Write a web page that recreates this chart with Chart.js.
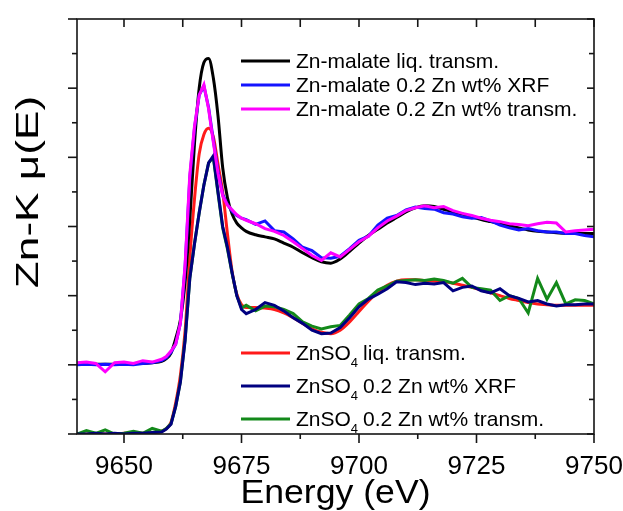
<!DOCTYPE html>
<html>
<head>
<meta charset="utf-8">
<script src="https://cdn.jsdelivr.net/npm/chart.js@4.4.0/dist/chart.umd.min.js"></script>
<style>
  html, body { margin: 0; padding: 0; background: #fff; }
  #wrap { width: 623px; height: 511px; }
</style>
</head>
<body>
<div id="wrap"><canvas id="xanes" width="623" height="511"></canvas></div>
<script>
// energy grid (eV) shared by all six spectra
const energy = [9640,9642,9644,9646,9648,9650,9652,9654,9656,9658,
  9659,9660,9661,9662,9663,9664,9665,9666,9667,9668,9669,9670,9671,9672,9673,9674,9675,9676,
  9678,9680,9682,9684,9686,9688,9690,9692,9694,9696,9698,9700,9702,9704,9706,9708,9710,9712,9714,9716,9718,
  9720,9722,9724,9726,9728,9730,9732,9734,9736,9738,9740,9742,9744,9746,9748,9750];

// Zn-malate spectra (offset by +1)
const malateLiq = [1.01,1.01,1.01,1.01,1.01,1.02,1.02,1.02,1.03,1.05,
  1.09,1.17,1.38,1.65,2.2,3.1,4.2,5.0,5.37,5.43,5.15,4.6,3.85,3.42,3.18,3.05,2.98,2.93,
  2.88,2.85,2.82,2.76,2.70,2.62,2.55,2.49,2.47,2.53,2.64,2.76,2.87,2.96,3.05,3.13,3.21,3.27,3.30,3.29,3.25,
  3.21,3.18,3.14,3.10,3.07,3.04,3.01,2.98,2.95,2.93,2.92,2.91,2.90,2.90,2.90,2.90];
const malateXrf = [1.0,1.01,1.0,1.01,1.0,1.01,1.0,1.02,1.03,1.06,
  1.1,1.18,1.3,1.6,2.42,3.7,4.42,4.9,5.03,4.72,4.25,3.8,3.46,3.32,3.22,3.16,3.12,3.1,
  3.03,3.08,2.94,2.92,2.82,2.70,2.65,2.55,2.54,2.57,2.68,2.80,2.86,3.02,3.12,3.16,3.24,3.28,3.26,3.25,3.20,
  3.18,3.14,3.12,3.13,3.08,3.02,2.98,2.95,2.97,2.94,2.92,2.92,2.90,2.90,2.87,2.85];
const malateTrans = [1.03,1.04,1.02,0.9,1.03,1.04,1.02,1.06,1.04,1.08,
  1.12,1.2,1.3,1.6,2.45,3.75,4.45,4.9,5.05,4.7,4.22,3.77,3.44,3.31,3.24,3.17,3.12,3.09,
  3.04,2.97,2.93,2.87,2.78,2.68,2.58,2.51,2.62,2.56,2.67,2.78,2.86,2.98,3.08,3.15,3.23,3.27,3.30,3.27,3.29,
  3.23,3.19,3.16,3.12,3.09,3.07,3.04,3.03,3.01,3.04,3.06,3.05,2.92,2.94,2.95,2.96];

// ZnSO4 spectra
const so4Liq = [0,0,0,0,0,0.01,0.01,0.01,0.02,0.04,
  0.08,0.17,0.45,0.85,1.49,2.55,3.4,4.05,4.33,4.42,4.3,3.9,3.5,2.9,2.35,2.02,1.87,1.83,
  1.83,1.82,1.80,1.75,1.68,1.60,1.52,1.47,1.45,1.50,1.62,1.77,1.92,2.05,2.15,2.21,2.23,2.23,2.22,2.21,2.20,
  2.18,2.15,2.12,2.08,2.04,2.00,1.96,1.93,1.90,1.88,1.87,1.86,1.86,1.86,1.86,1.86];
const so4Xrf = [0,0,0.01,0,0.01,0,0.01,0.01,0.02,0.03,
  0.07,0.14,0.4,0.75,1.35,2.25,2.75,3.2,3.6,3.92,4.02,3.5,3.0,2.7,2.33,2.0,1.8,1.74,
  1.80,1.90,1.86,1.78,1.68,1.60,1.50,1.45,1.46,1.54,1.68,1.84,1.95,2.02,2.10,2.20,2.19,2.16,2.18,2.17,2.19,
  2.07,2.12,2.14,2.07,2.04,2.10,2.00,1.96,1.91,1.93,1.88,1.85,1.87,1.87,1.88,1.88];
const so4Trans = [0,0.05,0.01,0.06,0.0,0.01,0.04,0.01,0.08,0.04,
  0.08,0.15,0.4,0.76,1.37,2.25,2.75,3.2,3.6,3.92,4.0,3.48,2.98,2.68,2.32,2.0,1.82,1.86,
  1.78,1.85,1.84,1.80,1.74,1.62,1.56,1.52,1.55,1.57,1.72,1.88,1.96,2.08,2.14,2.21,2.22,2.23,2.22,2.24,2.22,
  2.18,2.25,2.12,2.10,2.08,1.93,2.00,1.96,1.75,2.25,1.95,2.19,1.88,1.94,1.93,1.88];

const malateLabels = ['Zn-malate liq. transm.', 'Zn-malate 0.2 Zn wt% XRF', 'Zn-malate 0.2 Zn wt% transm.'];
const so4Labels = ['liq. transm.', '0.2 Zn wt% XRF', '0.2 Zn wt% transm.'];
const xTitle = 'Energy (eV)';
const yTitle = 'Zn-K μ(E)';

const xMajor = [9650, 9675, 9700, 9725, 9750];
const xMinor = [9662.5, 9687.5, 9712.5, 9737.5];
const yMajor = [0, 1, 2, 3, 4, 5, 6];
const yMinor = [0.5, 1.5, 2.5, 3.5, 4.5, 5.5];

const FONT = '"Liberation Sans", Arial, sans-serif';
const colors = { black: '#000000', blue: '#1414ff', magenta: '#ff00ff', red: '#ff1a1a', navy: '#000080', green: '#13891a' };
const LW = 3;

function pts(vals) {
  return energy.map((e, i) => ({ x: e, y: vals[i] }));
}
function line(label, vals, color, smooth) {
  return {
    label: label, data: pts(vals), borderColor: color, backgroundColor: color,
    borderWidth: LW, pointRadius: 0, fill: false,
    tension: smooth ? 0.35 : 0, cubicInterpolationMode: smooth ? 'monotone' : 'default'
  };
}

// first listed is drawn on top
const datasets = [
  line(malateLabels[2], malateTrans, colors.magenta, false),
  line(malateLabels[1], malateXrf, colors.blue, false),
  line(malateLabels[0], malateLiq, colors.black, true),
  line('ZnSO4 ' + so4Labels[1], so4Xrf, colors.navy, false),
  line('ZnSO4 ' + so4Labels[2], so4Trans, colors.green, false),
  line('ZnSO4 ' + so4Labels[0], so4Liq, colors.red, true)
];

const frameTicks = {
  id: 'frameTicks',
  afterDraw(chart) {
    const { ctx, chartArea: a, scales: { x, y } } = chart;
    ctx.save();
    ctx.strokeStyle = '#151515';
    ctx.lineWidth = 1.6;
    ctx.strokeRect(a.left, a.top, a.right - a.left, a.bottom - a.top);
    const mark = (x1, y1, x2, y2) => { ctx.beginPath(); ctx.moveTo(x1, y1); ctx.lineTo(x2, y2); ctx.stroke(); };
    xMajor.forEach(v => { const p = x.getPixelForValue(v); mark(p, a.bottom, p, a.bottom + 9); mark(p, a.top, p, a.top + 8); });
    xMinor.forEach(v => { const p = x.getPixelForValue(v); mark(p, a.bottom, p, a.bottom + 5); mark(p, a.top, p, a.top + 8); });
    yMajor.forEach(v => { const p = y.getPixelForValue(v); mark(a.left - 9, p, a.left, p); mark(a.right - 7, p, a.right, p); });
    yMinor.forEach(v => { const p = y.getPixelForValue(v); mark(a.left - 5, p, a.left, p); mark(a.right - 5, p, a.right, p); });
    ctx.restore();
  }
};

// axis titles, stretched a little like the original figure
const axisTitles = {
  id: 'axisTitles',
  afterDraw(chart) {
    const { ctx, chartArea: a } = chart;
    ctx.save();
    ctx.fillStyle = '#000';
    ctx.textAlign = 'center';
    ctx.textBaseline = 'alphabetic';
    ctx.font = '33px ' + FONT;
    ctx.translate((a.left + a.right) / 2, 503);
    ctx.scale(1.08, 1);
    ctx.fillText(xTitle, 0, 0);
    ctx.restore();

    ctx.save();
    ctx.fillStyle = '#000';
    ctx.textAlign = 'center';
    ctx.textBaseline = 'alphabetic';
    ctx.font = '32px ' + FONT;
    ctx.translate(38, 192);
    ctx.rotate(-Math.PI / 2);
    ctx.scale(1.38, 1);
    ctx.fillText(yTitle, 0, 0);
    ctx.restore();
  }
};

const twoLegends = {
  id: 'twoLegends',
  afterDraw(chart) {
    const ctx = chart.ctx;
    ctx.save();
    ctx.lineWidth = LW;
    ctx.textBaseline = 'middle';
    ctx.fillStyle = '#000';
    const row = (color, yy) => {
      ctx.strokeStyle = color;
      ctx.beginPath(); ctx.moveTo(241, yy); ctx.lineTo(290, yy); ctx.stroke();
    };
    const top = [[colors.black, 61], [colors.blue, 85], [colors.magenta, 109]];
    top.forEach((r, i) => {
      row(r[0], r[1]);
      ctx.font = '21px ' + FONT;
      ctx.fillText(malateLabels[i], 296, r[1] + 1);
    });
    const bottom = [[colors.red, 353], [colors.navy, 386], [colors.green, 419]];
    bottom.forEach((r, i) => {
      row(r[0], r[1]);
      ctx.font = '21px ' + FONT;
      let tx = 296;
      ctx.fillText('ZnSO', tx, r[1] + 1);
      tx += ctx.measureText('ZnSO').width;
      ctx.font = '13px ' + FONT;
      ctx.fillText('4', tx, r[1] + 10);
      tx += ctx.measureText('4').width + 5;
      ctx.font = '21px ' + FONT;
      ctx.fillText(so4Labels[i], tx, r[1] + 1);
    });
    ctx.restore();
  }
};

new Chart(document.getElementById('xanes'), {
  type: 'line',
  data: { datasets: datasets },
  options: {
    responsive: false,
    animation: false,
    devicePixelRatio: 1,
    layout: { padding: { top: 19, right: 29, left: 0, bottom: 0 } },
    plugins: { legend: { display: false }, tooltip: { enabled: false } },
    scales: {
      x: {
        type: 'linear', min: 9640, max: 9750,
        grid: { display: false, drawTicks: false },
        border: { display: false },
        afterBuildTicks: s => { s.ticks = xMajor.map(v => ({ value: v })); },
        afterFit: s => { s.height = 77; s.paddingLeft = 0; s.paddingRight = 0; },
        ticks: { color: '#000', padding: 17, font: { family: FONT, size: 26 }, callback: v => String(v), maxRotation: 0 },
        title: { display: false, text: xTitle }
      },
      y: {
        type: 'linear', min: 0, max: 6,
        grid: { display: false, drawTicks: false },
        border: { display: false },
        afterFit: s => { s.width = 77; },
        ticks: { display: false },
        title: { display: false, text: yTitle }
      }
    }
  },
  plugins: [frameTicks, axisTitles, twoLegends]
});
</script>
</body>
</html>
